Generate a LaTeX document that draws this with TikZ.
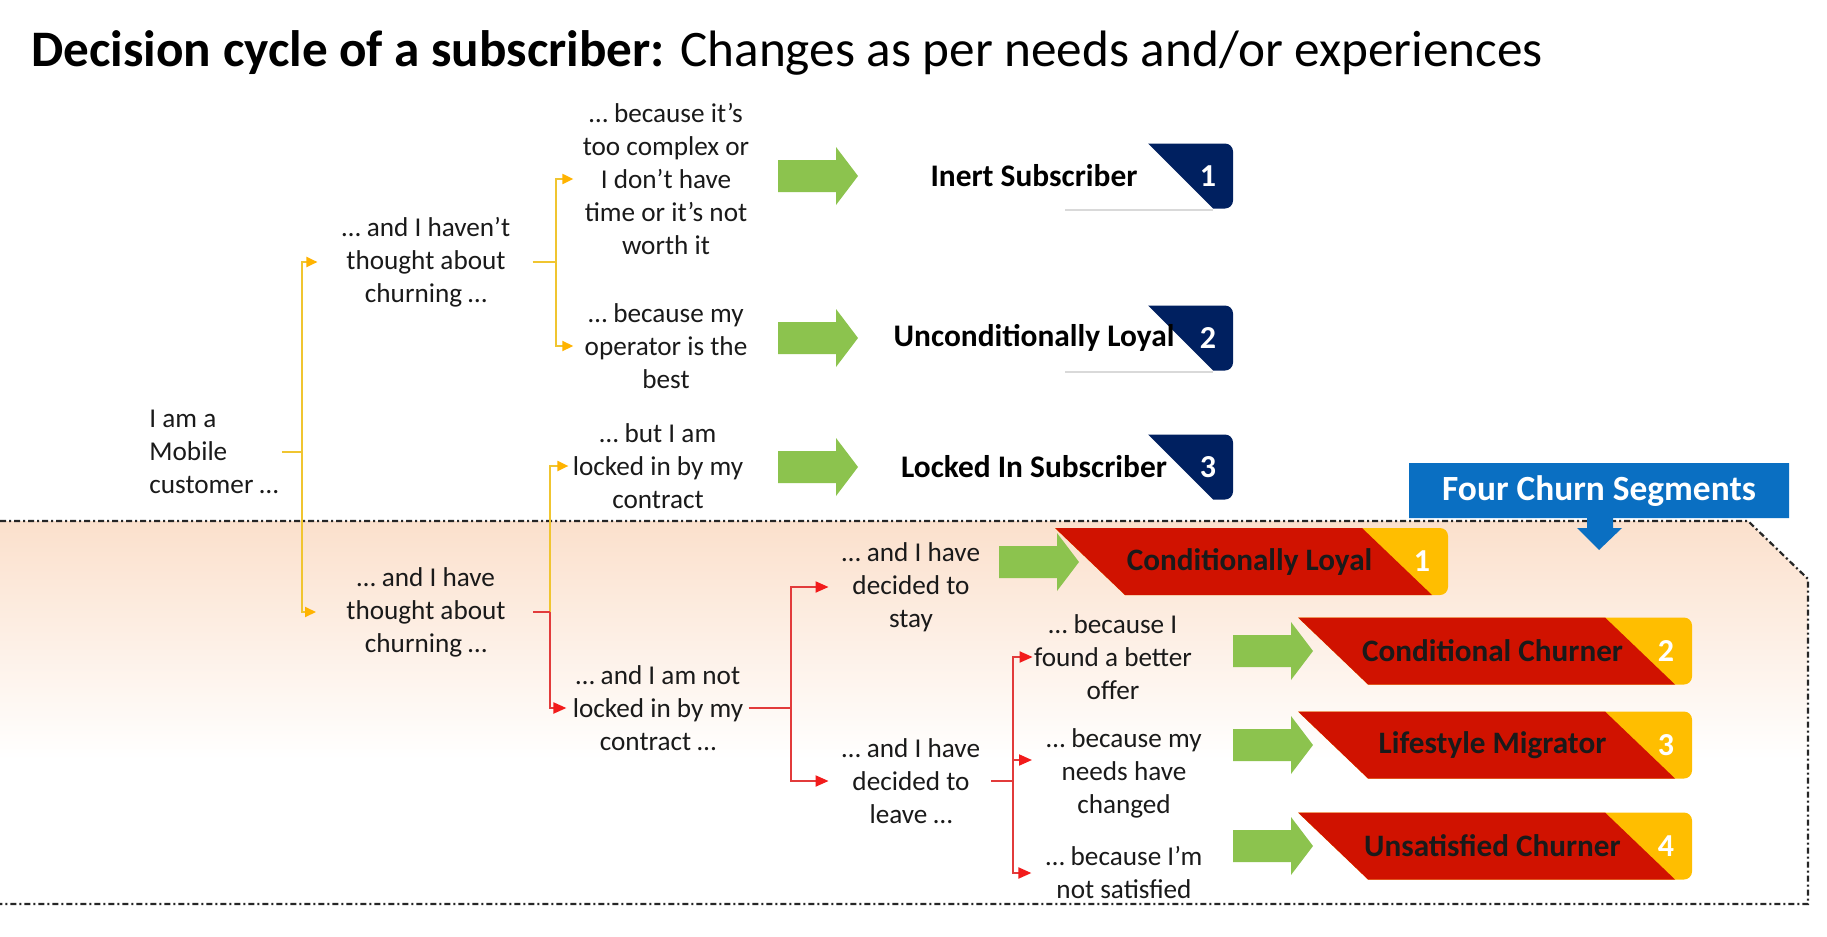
\documentclass[tikz,border=0pt]{standalone}
\usepackage{fontspec}
\setmainfont{Carlito}
\usetikzlibrary{arrows.meta}

\definecolor{navy}{HTML}{002060}
\definecolor{bred}{HTML}{D01200}
\definecolor{bamber}{HTML}{FFBE00}
\definecolor{gblockc}{HTML}{8CC34E}
\definecolor{calloutblue}{HTML}{0A6FC2}
\definecolor{peach}{HTML}{FBE0CC}
\definecolor{ylinec}{HTML}{F0C530}
\definecolor{ytipc}{HTML}{FFB300}
\definecolor{rlinec}{HTML}{E23B3B}
\definecolor{rtipc}{HTML}{F21B1B}
\definecolor{inkc}{HTML}{1A1A1A}

% navy numbered tag: #1 y centre, #2 name, #3 label, #4 digit
\newcommand{\drawtag}[4]{%
  \begin{scope}
    \clip (1148,#1-32.5) -- (1245,#1-32.5) -- (1245,#1+32.5) -- (1213,#1+32.5) -- cycle;
    \fill[navy,rounded corners=4pt] (1120,#1-32.5) rectangle (1233,#1+32.5);
  \end{scope}
  \node[tagtxt] (#2) at (1034,#1) {#3};
  \node[tagnum] (#2-num) at (1208,#1) {#4};
}

% red/amber segment banner: #1 left x, #2 y centre, #3 split x, #4 right x,
% #5 name, #6 label, #7 digit
\newcommand{\drawbanner}[7]{%
  \begin{scope}
    \clip (#1,#2-33.5) -- (#4+5,#2-33.5) -- (#4+5,#2+33.5) -- (#1+70,#2+33.5) -- cycle;
    \fill[bamber,rounded corners=4pt] (#1-30,#2-33.5) rectangle (#4,#2+33.5);
    \fill[bred] (#1,#2-33.5) -- (#3,#2-33.5) -- (#3+70,#2+33.5) -- (#1+70,#2+33.5) -- cycle;
  \end{scope}
  \node[bantxt] (#5) at ({(#1+#3)/2+41},#2) {#6};
  \node[tagnum] (#5-num) at (#4-26,#2) {#7};
}

\begin{document}
\begin{tikzpicture}[x=0.5pt,y=-0.5pt,
  txt/.style={font=\fontsize{13.6}{16.5}\selectfont, align=center, inner sep=0pt, text=inkc},
  tagtxt/.style={font=\fontsize{15.7}{18}\selectfont\bfseries, inner sep=0pt, text=black},
  bantxt/.style={font=\fontsize{15.6}{18}\selectfont\bfseries, inner sep=0pt, text=inkc},
  tagnum/.style={font=\fontsize{16}{18}\selectfont\bfseries, inner sep=0pt, text=white},
  callouttxt/.style={font=\fontsize{17.7}{20}\selectfont\bfseries, inner sep=0pt, text=white},
  tagrule/.style={draw=black!15, line width=0.8pt},
  segframe/.style={draw=black!85, line width=1.1pt, dash pattern=on 3pt off 1.5pt on 1pt off 1.5pt},
  yconn/.style={draw=ylinec, line width=1pt},
  yarr/.style={yconn, -{Triangle[length=5.5pt,width=5pt,color=ytipc]}},
  rconn/.style={draw=rlinec, line width=1pt},
  rarr/.style={rconn, -{Triangle[length=6.5pt,width=5.5pt,color=rtipc]}},
  gblock/.pic={\fill[gblockc] (0,-16) -- (58,-16) -- (58,-29) -- (80,0) -- (58,29) -- (58,16) -- (0,16) -- cycle;}
]
\useasboundingbox (0,0) rectangle (1827,937);
\fill[white] (0,0) rectangle (1827,937);

% shaded churn area and its dash-dot frame
\begin{scope}
  \clip (0,521) -- (1748,521) -- (1808,579) -- (1808,904) -- (0,904) -- cycle;
  \shade[top color=peach, bottom color=white] (0,521) rectangle (1827,760);
\end{scope}
\draw[segframe] (0,521) -- (1748,521) -- (1808,579) -- (1808,904) -- (0,904);

% heading
\node[anchor=base west, inner sep=0pt, text=black, font=\fontsize{25.6}{30}\selectfont] (title) at (31,66)
  {\textbf{Decision cycle of a subscriber:} Changes as per needs and/or experiences};

% decision tree texts
\node[txt, anchor=west, align=left] (mobile) at (149,452) {I am a\\Mobile\\customer …};
\node[txt] (haven) at (426,262) {… and I haven’t\\thought about\\churning …};
\node[txt] (havethought) at (426,612) {… and I have\\thought about\\churning …};
\node[txt] (complex) at (666,179) {… because it’s\\too complex or\\I don’t have\\time or it’s not\\worth it};
\node[txt] (best) at (666,346) {… because my\\operator is the\\best};
\node[txt] (lockedin) at (658,466) {… but I am\\locked in by my\\contract};
\node[txt] (notlocked) at (658,708) {… and I am not\\locked in by my\\contract …};
\node[txt] (stay) at (911,587) {… and I have\\decided to\\stay};
\node[txt] (leave) at (911,781) {… and I have\\decided to\\leave …};
\node[txt] (offer) at (1113,657) {… because I\\found a better\\offer};
\node[txt] (needs) at (1124,773) {… because my\\needs have\\changed};
\node[txt] (unsat) at (1124,873) {… because I’m\\not satisfied};

% branch points
\coordinate (jA) at (302,452);
\coordinate (jB) at (556,262);
\coordinate (jC) at (550,612);
\coordinate (jD) at (791,708);
\coordinate (jE) at (1013,781);

% connectors
\draw[yconn, shorten <=1.5pt] (mobile.east) -- (jA);
\draw[yarr, shorten >=12pt] (jA) |- (haven.west);
\draw[yarr, shorten >=15pt] (jA) |- (havethought.west);
\draw[yconn, shorten <=11pt] (haven.east) -- (jB);
\draw[yarr, shorten >=4.5pt] (jB) |- (complex.west);
\draw[yarr, shorten >=5.5pt] (jB) |- (best.west);
\draw[yarr, shorten >=2pt] (jC) |- (lockedin.west);
\draw[rconn, shorten <=13.5pt] (havethought.east) -- (jC);
\draw[rarr, shorten >=3pt] (jC) |- (notlocked.west);
\draw[rconn, shorten <=2.5pt] (notlocked.east) -- (jD);
\draw[rarr, shorten >=6.5pt] (jD) |- (stay.west);
\draw[rarr, shorten >=6.5pt] (jD) |- (leave.west);
\draw[rconn, shorten <=5.5pt] (leave.east) -- (jE);
\draw[rarr, shorten >=0.5pt] (jE) |- (offer.west);
\draw[rarr, shorten >=7pt] (jE) |- ([yshift=6.5pt]needs.west);
\draw[rarr, shorten >=7pt] (jE) |- (unsat.west);

% outcome arrows
\pic at (778,176) {gblock};
\pic at (778,338) {gblock};
\pic at (778,467) {gblock};
\pic at (999,562) {gblock};
\pic at (1233,651) {gblock};
\pic at (1233,745) {gblock};
\pic at (1233,846) {gblock};

% non-churn segments
\draw[tagrule] (1065,210) -- (1213,210);
\draw[tagrule] (1065,372) -- (1213,372);
\drawtag{176}{inert}{Inert Subscriber}{1}
\drawtag{338}{loyal}{Unconditionally Loyal}{2}
\drawtag{467}{locked}{Locked In Subscriber}{3}

% churn segments
\drawbanner{1055}{561.5}{1362}{1448}{condloyal}{Conditionally Loyal}{1}
\drawbanner{1298}{651}{1605}{1692}{condchurn}{Conditional Churner}{2}
\drawbanner{1298}{745}{1605}{1692}{lifestyle}{Lifestyle Migrator}{3}
\drawbanner{1298}{846}{1605}{1692}{unsatchurn}{Unsatisfied Churner}{4}

% callout
\fill[calloutblue] (1409,463) -- (1789,463) -- (1789,518) -- (1613,518) -- (1613,528)
  -- (1622,528) -- (1599,550) -- (1577,528) -- (1587,528) -- (1587,518) -- (1409,518) -- cycle;
\node[callouttxt] (segments) at (1599,491) {Four Churn Segments};
\end{tikzpicture}
\end{document}
